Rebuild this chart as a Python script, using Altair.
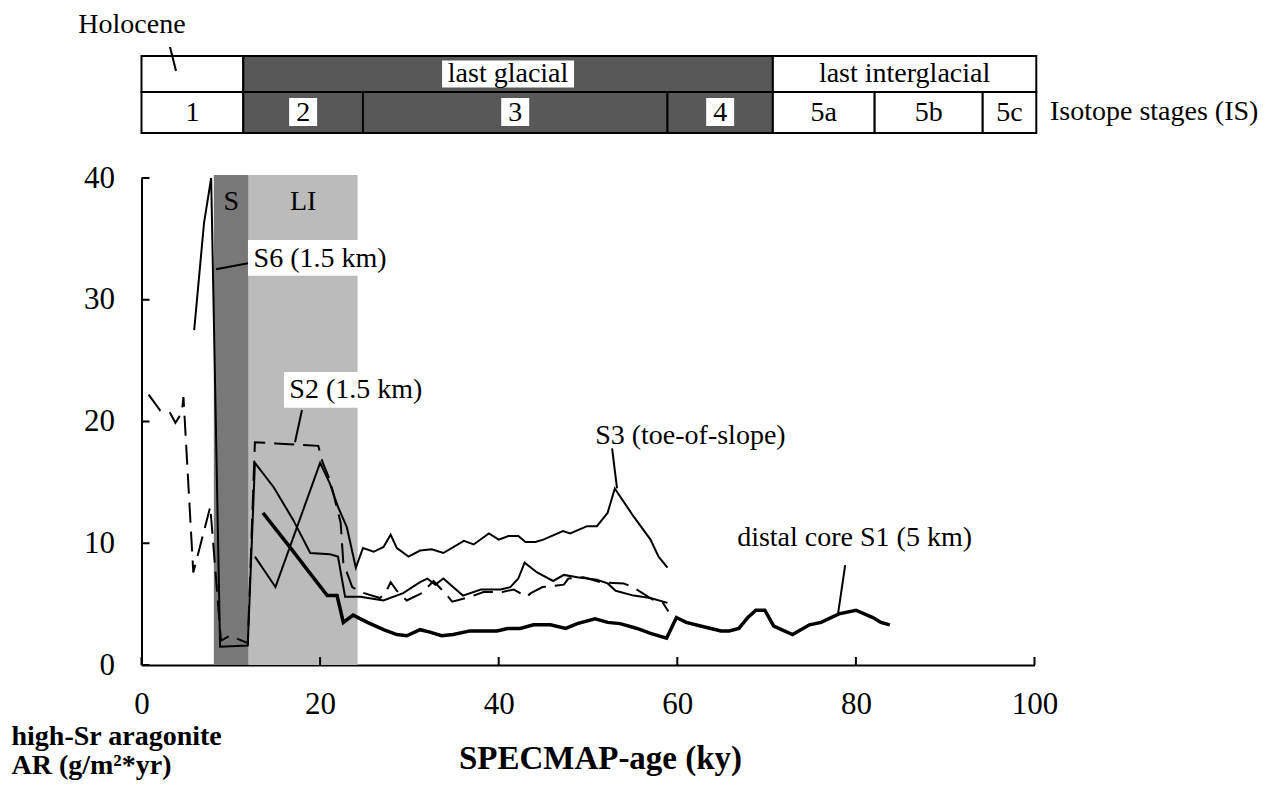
import altair as alt
import pandas as pd

FONT = "Liberation Serif"

# ---------------- data ----------------
# S6 (1.5 km) – thin solid
s6_x = [5.9, 7.0, 7.8, 8.8, 11.9, 12.7, 14.8, 17.0, 18.9, 21.1, 22.0, 22.8, 24.5, 27.1, 29.3,
        31.2, 32.0, 32.9, 33.8, 36.0, 38.0, 40.2, 41.3, 42.2, 42.9, 44.3, 46.1, 47.3, 48.8, 51.0,
        52.2, 53.1, 55.1, 57.0, 58.9]
s6_y = [27.5, 36.3, 40.0, 1.5, 1.6, 16.6, 14.6, 11.9, 9.2, 9.1, 8.9, 5.6, 5.6, 5.3, 5.9,
        6.8, 7.1, 6.6, 7.1, 5.7, 6.2, 6.2, 6.4, 7.1, 8.4, 7.6, 6.9, 7.4, 7.2, 7.0,
        6.7, 6.1, 5.7, 5.5, 5.1]

# S2 (1.5 km) – dashed
s2_x = [0.8, 2.1, 3.2, 3.8, 4.5, 4.7, 5.8, 7.7, 8.9, 9.9, 11.9, 12.7, 15.0, 17.5, 19.8,
        20.3, 21.1, 22.3, 22.6, 23.6, 24.5, 26.7, 27.3, 27.9, 28.6, 29.7, 31.4, 32.7, 34.0, 34.8,
        36.8, 38.3, 40.4, 41.7, 43.1, 43.6, 44.9, 47.3, 47.8, 49.5, 51.4, 54.0, 55.0, 57.2, 58.4,
        59.0]
s2_y = [22.2, 20.9, 20.7, 19.9, 20.7, 22.0, 7.6, 13.0, 2.0, 2.4, 1.8, 18.3, 18.2, 18.1, 18.0,
        16.6, 15.2, 11.7, 8.4, 6.4, 6.0, 5.5, 5.9, 6.8, 6.1, 5.3, 5.9, 6.9, 5.9, 5.2,
        5.6, 6.0, 6.0, 6.2, 5.6, 5.9, 6.4, 6.6, 7.1, 7.2, 6.8, 6.7, 6.4, 5.4, 5.1,
        4.4]

# S3 (toe-of-slope) – thin solid
s3_x = [12.7, 14.0, 15.0, 20.0, 21.1, 22.0, 23.0, 24.0, 24.8, 26.0, 27.1, 27.9, 28.6, 29.9, 31.2,
        32.5, 33.8, 36.1, 37.2, 38.9, 40.0, 41.1, 42.2, 43.0, 44.1, 45.0, 47.2, 48.0, 49.9, 51.0,
        52.2, 53.0, 55.1, 57.0, 57.9, 58.9]
s3_y = [8.9, 7.5, 6.4, 16.6, 14.9, 13.0, 11.3, 8.0, 9.6, 9.3, 9.7, 10.7, 9.6, 8.9, 9.4,
        9.5, 9.2, 10.2, 9.9, 10.8, 10.3, 10.6, 10.6, 10.1, 10.1, 10.3, 11.0, 10.8, 11.4, 11.4,
        12.5, 14.5, 12.2, 10.3, 8.9, 8.0]

# distal core S1 (5 km) – thick solid
s1_x = [13.6, 16.6, 18.9, 20.8, 21.9, 22.6, 23.7, 25.3, 27.1, 28.6, 29.7, 31.2, 32.3, 33.6, 34.9,
        36.8, 39.8, 41.0, 42.4, 43.9, 45.8, 47.5, 48.8, 50.8, 52.2, 53.6, 55.5, 57.0, 58.8, 59.9,
        61.0, 62.6, 64.9, 65.8, 66.9, 67.9, 68.8, 69.8, 70.8, 72.9, 74.8, 76.1, 78.1, 80.0, 81.9,
        82.8, 83.8]
s1_y = [12.5, 9.7, 7.5, 5.7, 5.7, 3.5, 4.1, 3.5, 2.9, 2.5, 2.4, 2.9, 2.7, 2.4, 2.5,
        2.8, 2.8, 3.0, 3.0, 3.3, 3.3, 3.0, 3.4, 3.8, 3.5, 3.4, 3.0, 2.6, 2.2, 3.9,
        3.5, 3.2, 2.8, 2.8, 3.0, 3.9, 4.5, 4.5, 3.2, 2.5, 3.3, 3.5, 4.2, 4.5, 3.9,
        3.5, 3.3]

# shaded intervals (S, LI)
shade_name = ["S", "LI"]
shade_start = [8.1, 12.0]
shade_end = [12.0, 24.2]
shade_fill = ["#787878", "#bbbbbb"]

# climate periods (top row of the table)
period_name = ["", "last glacial", "last interglacial"]
period_start = [0.0, 11.4, 70.7]
period_end = [11.4, 70.7, 100.2]
period_dark = [False, True, False]

# isotope stages (second row)
stage_name = ["1", "2", "3", "4", "5a", "5b", "5c"]
stage_start = [0.0, 11.4, 24.8, 58.9, 70.7, 82.1, 94.2]
stage_end = [11.4, 24.8, 58.9, 70.7, 82.1, 94.2, 100.2]
stage_dark = [False, True, True, True, False, False, False]

x_ticks = [0, 20, 40, 60, 80, 100]
y_ticks = [0, 10, 20, 30, 40]

# series annotations
ann_text = ["S6 (1.5 km)", "S2 (1.5 km)", "S3 (toe-of-slope)", "distal core S1 (5 km)"]
ann_x = [20.0, 24.0, 50.8, 79.85]
ann_y = [33.35, 22.6, 18.8, 10.4]
ann_left = [False, False, True, False]
lead_x1 = [8.34, 17.97, 52.7, 78.8]
lead_y1 = [32.5, 20.94, 17.8, 8.2]
lead_x2 = [11.93, 17.19, 53.25, 78.0]
lead_y2 = [33.0, 18.3, 14.5, 4.2]

# ---------------- layout constants ----------------
W, H = 893, 487
DARK = "#585858"
xs = alt.Scale(domain=[0, 100], nice=False, zero=False)
ys = alt.Scale(domain=[0, 40], nice=False, zero=False)

x_axis = alt.Axis(values=x_ticks, title="SPECMAP-age (ky)", ticks=False, tickSize=0, grid=False,
                  domainColor="black", domainWidth=2, labelFont=FONT, labelFontSize=31,
                  labelColor="black", labelPadding=24, labelAngle=0, labelFlush=False,
                  labelOverlap=False, titleFont=FONT, titleFontSize=33, titleFontWeight="bold",
                  titleColor="black", titleX=458.5, titleY=103, titleAlign="center",
                  titleBaseline="alphabetic")
y_axis = alt.Axis(values=y_ticks, title=["high-Sr aragonite", "AR (g/m²*yr)"], ticks=False,
                  tickSize=0, grid=False, domainColor="black", domainWidth=2, labelFont=FONT,
                  labelFontSize=31, labelColor="black", labelPadding=27, labelFlush=False,
                  labelOverlap=False, titleFont=FONT, titleFontSize=28, titleFontWeight="bold",
                  titleColor="black", titleAngle=0, titleAlign="left", titleBaseline="alphabetic",
                  titleX=-130.5, titleY=566, titleLineHeight=29)


def X(f):
    return alt.X(f, type="quantitative", scale=xs, axis=x_axis)


def Y(f):
    return alt.Y(f, type="quantitative", scale=ys, axis=y_axis)


# ---------------- frames ----------------
def series(xv, yv):
    return pd.DataFrame({"x": xv, "y": yv})


shade_df = pd.DataFrame({"name": shade_name, "start": shade_start, "end": shade_end,
                         "fill": shade_fill})
shade_df["mid"] = (shade_df["start"] + shade_df["end"]) / 2

period_df = pd.DataFrame({"name": period_name, "start": period_start, "end": period_end,
                          "dark": period_dark})
period_df["mid"] = (period_df["start"] + period_df["end"]) / 2
period_df["fill"] = period_df["dark"].map({True: DARK, False: "white"})

stage_df = pd.DataFrame({"name": stage_name, "start": stage_start, "end": stage_end,
                         "dark": stage_dark})
stage_df["mid"] = (stage_df["start"] + stage_df["end"]) / 2
stage_df["fill"] = stage_df["dark"].map({True: DARK, False: "white"})

ann_df = pd.DataFrame({"text": ann_text, "x": ann_x, "y": ann_y, "left": ann_left})
lead_df = pd.DataFrame({"x": lead_x1, "y": lead_y1, "x2": lead_x2, "y2": lead_y2})

# ---------------- layers ----------------
shade = alt.Chart(shade_df).mark_rect().encode(
    x=X("start"), x2=alt.X2("end"), y=alt.value(-3), y2=alt.value(H),
    fill=alt.Fill("fill:N", scale=None))
shade_lbl = alt.Chart(shade_df).mark_text(font=FONT, fontSize=28, color="black",
                                          baseline="middle").encode(
    x=X("mid"), y=alt.value(24), text="name:N")

period_rect = alt.Chart(period_df).mark_rect(stroke="black", strokeWidth=2).encode(
    x=X("start"), x2=alt.X2("end"), y=alt.value(-122), y2=alt.value(-86),
    fill=alt.Fill("fill:N", scale=None))
stage_rect = alt.Chart(stage_df).mark_rect(stroke="black", strokeWidth=2).encode(
    x=X("start"), x2=alt.X2("end"), y=alt.value(-86), y2=alt.value(-45),
    fill=alt.Fill("fill:N", scale=None))

period_bg = alt.Chart(period_df[period_df["dark"]]).mark_point(
    shape="M-1,-0.205H1V0.205H-1Z", filled=True, color="white", opacity=1, size=132 ** 2,
    strokeWidth=0).encode(x=X("mid"), y=alt.value(-104))
stage_bg = alt.Chart(stage_df[stage_df["dark"]]).mark_point(
    shape="square", filled=True, color="white", opacity=1, size=28 ** 2,
    strokeWidth=0).encode(x=X("mid"), y=alt.value(-66))

period_txt = alt.Chart(period_df).mark_text(font=FONT, fontSize=28, color="black",
                                            baseline="middle").encode(
    x=X("mid"), y=alt.value(-104), text="name:N")
stage_txt = alt.Chart(stage_df).mark_text(font=FONT, fontSize=28, color="black",
                                          baseline="middle").encode(
    x=X("mid"), y=alt.value(-65.5), text="name:N")

iso_txt = alt.Chart(pd.DataFrame({"t": ["Isotope stages (IS)"]})).mark_text(
    font=FONT, fontSize=28, color="black", align="left", baseline="middle").encode(
    x=alt.value(908.5), y=alt.value(-66), text="t:N")
holo_txt = alt.Chart(pd.DataFrame({"t": ["Holocene"]})).mark_text(
    font=FONT, fontSize=28, color="black", align="center", baseline="middle").encode(
    x=alt.value(-9.5), y=alt.value(-153), text="t:N")
holo_lead = alt.Chart(pd.DataFrame({"t": ["Holocene"]})).mark_rule(
    color="black", strokeWidth=2).encode(
    x=alt.value(28.5), x2=alt.value(34.5), y=alt.value(-131), y2=alt.value(-107))

# label backgrounds for S6 / S2 annotations
lab_bg = alt.Chart(ann_df.iloc[:2].assign(bx=[19.93, 23.96], by=[33.43, 22.59])).mark_point(
    shape="M-1,-0.25H1V0.25H-1Z", filled=True, color="white", opacity=1, size=143 ** 2,
    strokeWidth=0).encode(x=X("bx"), y=Y("by"))


def line(xv, yv, width, dash=None):
    kw = dict(color="black", strokeWidth=width, clip=True)
    if dash:
        kw["strokeDash"] = dash
    return alt.Chart(series(xv, yv)).mark_line(**kw).encode(x=X("x"), y=Y("y"))


l_s2 = line(s2_x, s2_y, 2, [20, 9])
l_s6 = line(s6_x, s6_y, 2)
l_s3 = line(s3_x, s3_y, 2)
l_s1 = line(s1_x, s1_y, 3.5)

leaders = alt.Chart(lead_df).mark_rule(color="black", strokeWidth=2).encode(
    x=X("x"), y=Y("y"), x2=alt.X2("x2"), y2=alt.Y2("y2"))
ann_c = alt.Chart(ann_df[~ann_df["left"]]).mark_text(
    font=FONT, fontSize=28, color="black", baseline="middle", align="center").encode(
    x=X("x"), y=Y("y"), text="text:N")
ann_l = alt.Chart(ann_df[ann_df["left"]]).mark_text(
    font=FONT, fontSize=28, color="black", baseline="middle", align="left").encode(
    x=X("x"), y=Y("y"), text="text:N")

yt = alt.Chart(pd.DataFrame({"v": y_ticks})).mark_rule(color="black", strokeWidth=2).encode(
    y=Y("v"), x=alt.value(0), x2=alt.value(8))
xt = alt.Chart(pd.DataFrame({"v": x_ticks})).mark_rule(color="black", strokeWidth=2).encode(
    x=X("v"), y=alt.value(H), y2=alt.value(H - 8))

chart = alt.layer(
    shade, period_rect, stage_rect, period_bg, stage_bg, period_txt, stage_txt,
    iso_txt, holo_txt, holo_lead, lab_bg, shade_lbl,
    l_s2, l_s6, l_s3, l_s1, leaders, ann_c, ann_l, yt, xt
).properties(
    width=W, height=H,
    autosize=alt.AutoSizeParams(type="none"),
    padding={"left": 133.5, "top": 170, "right": 228, "bottom": 116},
    background="white"
).configure_view(strokeWidth=0)

chart.save("out.html", embed_options={"renderer": "svg", "actions": False})
